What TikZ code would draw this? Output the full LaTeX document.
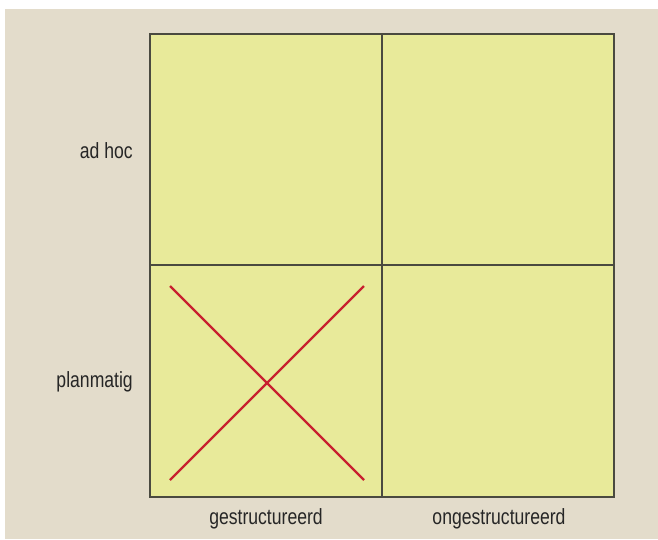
\documentclass[tikz,border=0pt]{standalone}
\usepackage{fontspec}
\setmainfont{Liberation Sans}[FakeStretch=0.8]
\definecolor{bgbeige}{HTML}{E3DCCB}
\definecolor{cellfill}{HTML}{E8EA9A}
\definecolor{gridline}{HTML}{4A4A40}
\definecolor{crossred}{HTML}{C8202F}
\begin{document}
\begin{tikzpicture}[x=1pt,y=-1pt,
  cell/.style={draw=gridline,line width=1.4pt,fill=cellfill},
  cross/.style={draw=crossred,line width=2.4pt},
  lbl/.style={font=\fontsize{22}{26}\selectfont,text=black!85,inner sep=0pt}]
\fill[white] (0,0) rectangle (658,539);
\useasboundingbox (0,0) rectangle (658,539);
\fill[bgbeige] (5,9) rectangle (658,539);
\draw[cell] (150,34) rectangle (382,265);
\draw[cell] (382,34) rectangle (614,265);
\draw[cell] (150,265) rectangle (382,497);
\draw[cell] (382,265) rectangle (614,497);
\coordinate (x1) at (170,286);
\coordinate (x2) at (364,480);
\coordinate (x3) at (364,286);
\coordinate (x4) at (170,480);
\draw[cross] (x1) -- (x2);
\draw[cross] (x3) -- (x4);
\node[lbl,anchor=base east] (adhoc) at (133,158) {ad hoc};
\node[lbl,anchor=base east] (plan) at (133,387) {planmatig};
\node[lbl,anchor=base] (gest) at (266,524) {gestructureerd};
\node[lbl,anchor=base] (ongest) at (499,524) {ongestructureerd};
\end{tikzpicture}
\end{document}
